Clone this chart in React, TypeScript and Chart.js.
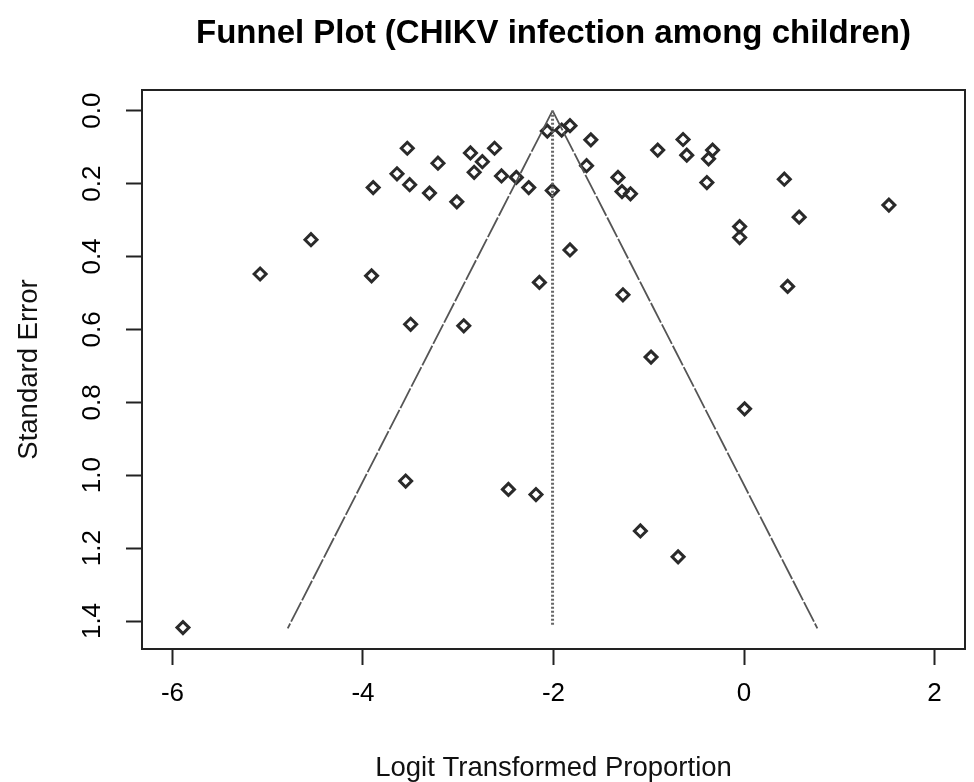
import { useEffect, useRef } from "react";
import { Chart, registerables } from "chart.js";

Chart.register(...registerables);

// ---- data ----
const studyLogit = [
  -3.535, -3.893, -3.643, -3.51, -3.213, -3.302, -2.872, -2.747, -2.619, -2.833,
  -3.015, -2.546, -2.39, -2.26, -2.065, -2.013, -4.546, -1.914, -1.827, -1.608,
  -1.653, -0.906, -0.64, -0.601, -0.33, -0.372, -1.323, -1.281, -1.192, -0.39,
  0.423, 1.521, 0.579, -0.046, -0.046, -1.827, -2.148, -1.271, 0.458, -5.08,
  -3.91, -3.5, -2.942, -0.976, 0.006, -1.088, -0.692, -5.89, -3.552, -2.473,
  -2.184,
];
const studySE = [
  0.103, 0.211, 0.173, 0.203, 0.144, 0.226, 0.116, 0.14, 0.103, 0.169,
  0.25, 0.179, 0.183, 0.211, 0.056, 0.219, 0.354, 0.053, 0.041, 0.08,
  0.151, 0.108, 0.079, 0.122, 0.108, 0.132, 0.183, 0.222, 0.228, 0.197,
  0.188, 0.259, 0.292, 0.318, 0.348, 0.382, 0.471, 0.505, 0.482, 0.448,
  0.453, 0.586, 0.59, 0.676, 0.818, 1.153, 1.224, 1.418, 1.016, 1.039,
  1.053,
];
const refLineX = [-2.01, -2.01];
const refLineSE = [0, 1.41];
const funnelLeftX = [-2.01, -4.79];
const funnelRightX = [-2.01, 0.77];
const funnelSE = [0, 1.42];
const xTickValues = [-6, -4, -2, 0, 2];
const yTickValues = [0, 0.2, 0.4, 0.6, 0.8, 1.0, 1.2, 1.4];

const TITLE = "Funnel Plot (CHIKV infection among children)";
const X_TITLE = "Logit Transformed Proportion";
const Y_TITLE = "Standard Error";

const FAMILY = '"Liberation Sans", Arial, sans-serif';

const framePlugin = {
  id: "frame",
  afterDatasetsDraw(chart: any) {
    const { ctx, chartArea } = chart;
    ctx.save();
    ctx.strokeStyle = "#222";
    ctx.lineWidth = 2;
    ctx.strokeRect(chartArea.left, chartArea.top, chartArea.right - chartArea.left, chartArea.bottom - chartArea.top);
    ctx.restore();
  },
};

export default function App() {
  const ref = useRef<HTMLCanvasElement | null>(null);
  useEffect(() => {
    if (!ref.current) return;
    const pts = studyLogit.map((x, i) => ({ x, y: studySE[i] }));
    const chart = new Chart(ref.current, {
      type: "scatter",
      data: {
        datasets: [
          {
            type: "line",
            data: refLineX.map((x, i) => ({ x, y: refLineSE[i] })),
            borderColor: "#666",
            borderWidth: 3,
            borderDash: [2, 2],
            pointRadius: 0,
            fill: false,
          } as any,
          {
            type: "line",
            data: funnelLeftX.map((x, i) => ({ x, y: funnelSE[i] })),
            borderColor: "#555",
            borderWidth: 1.8,
            borderDash: [22, 2],
            pointRadius: 0,
            fill: false,
          } as any,
          {
            type: "line",
            data: funnelRightX.map((x, i) => ({ x, y: funnelSE[i] })),
            borderColor: "#555",
            borderWidth: 1.8,
            borderDash: [22, 2],
            pointRadius: 0,
            fill: false,
          } as any,
          {
            data: pts,
            pointStyle: "rectRot",
            pointRadius: 6,
            pointBorderWidth: 3,
            pointBorderColor: "#2a2a2a",
            pointBackgroundColor: "rgba(255,255,255,0)",
          } as any,
        ],
      },
      options: {
        responsive: false,
        animation: false,
        layout: { padding: { left: 0, right: 2, top: 0, bottom: 0 } },
        plugins: {
          legend: { display: false },
          tooltip: { enabled: false },
          title: {
            display: true,
            text: TITLE,
            fullSize: false,
            color: "#000",
            font: { family: FAMILY, size: 33, weight: "bold", lineHeight: 1.2 },
            padding: { top: 14, bottom: 36.4 },
          } as any,
        },
        scales: {
          x: {
            type: "linear",
            min: -6.32,
            max: 2.32,
            afterBuildTicks: (s: any) => {
              s.ticks = xTickValues.map((v) => ({ value: v }));
            },
            afterFit: (s: any) => {
              s.height = 133;
            },
            border: { display: false },
            grid: { drawOnChartArea: false, drawTicks: true, tickLength: 16, tickColor: "#222", tickWidth: 2 } as any,
            ticks: {
              color: "#000",
              padding: 13,
              font: { family: FAMILY, size: 26, lineHeight: 1.2 },
              callback: (v: any) => String(v),
            },
            title: {
              display: true,
              text: X_TITLE,
              color: "#111",
              font: { family: FAMILY, size: 27.5, lineHeight: 1 },
              padding: { top: 0, bottom: 0 },
            },
          },
          y: {
            type: "linear",
            reverse: true,
            min: -0.0568,
            max: 1.4768,
            afterBuildTicks: (s: any) => {
              s.ticks = yTickValues.map((v) => ({ value: v }));
            },
            afterFit: (s: any) => {
              s.width = 142;
            },
            border: { display: false },
            grid: { drawOnChartArea: false, drawTicks: true, tickLength: 16, tickColor: "#222", tickWidth: 2 } as any,
            ticks: {
              color: "#000",
              padding: 15.5,
              minRotation: 90,
              maxRotation: 90,
              crossAlign: "center",
              font: { family: FAMILY, size: 26, lineHeight: 1.2 },
              callback: (v: any) => Number(v).toFixed(1),
            } as any,
            title: {
              display: true,
              text: Y_TITLE,
              color: "#111",
              font: { family: FAMILY, size: 27.5, lineHeight: 1.2 },
              padding: { top: 13, bottom: 0 },
            },
          },
        },
      },
      plugins: [framePlugin],
    });
    return () => chart.destroy();
  }, []);
  return (
    <div style={{ position: "absolute", left: 0, top: 0, width: 974, height: 782, background: "#fff" }}>
      <canvas ref={ref} width={974} height={782} />
    </div>
  );
}
